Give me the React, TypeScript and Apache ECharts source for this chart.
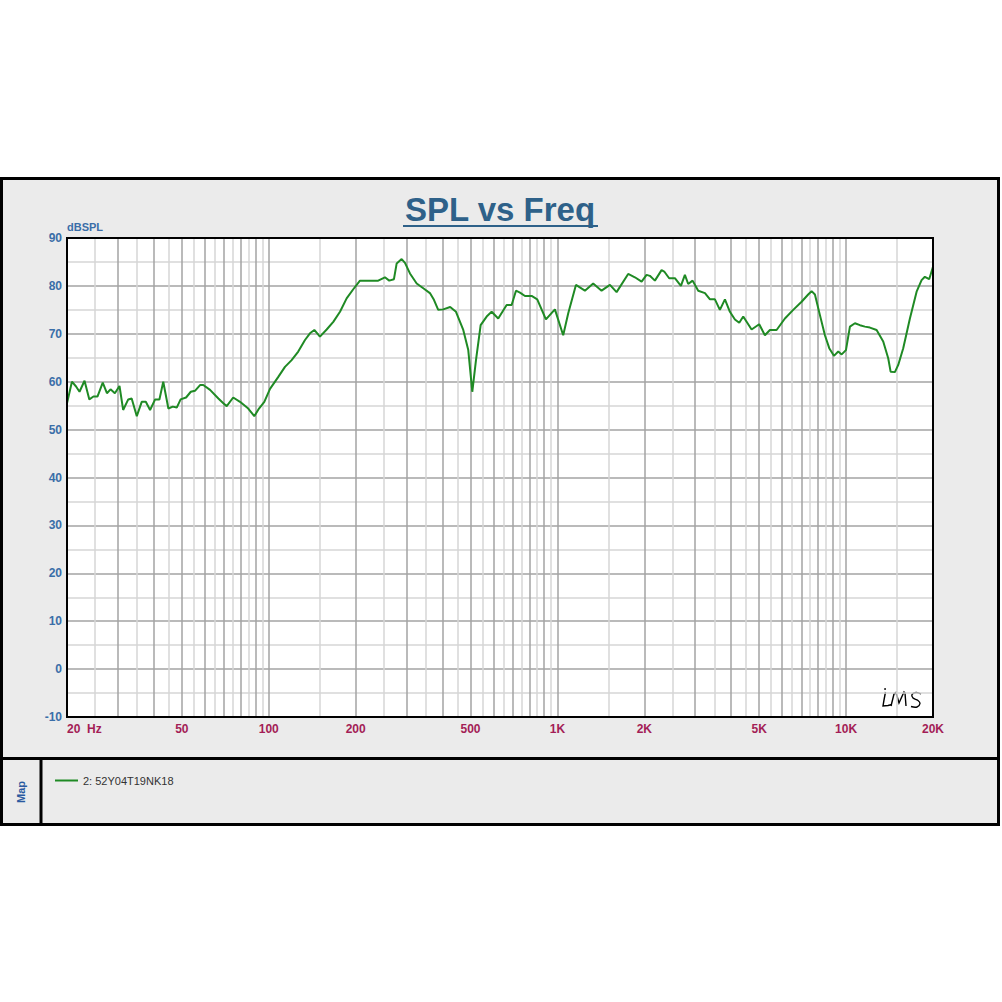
import React, { useEffect, useRef } from "react";
import * as echarts from "echarts";

// Frequency response readings [Hz, dBSPL]
const LOW_BAND: [number, number][] = [
  [20, 55.5], [20.8, 60.0], [21.5, 59.0], [22.1, 57.9], [23.0, 60.2], [23.9, 56.3], [24.7, 56.9],
  [25.5, 56.9], [26.6, 59.8], [27.5, 57.6], [28.3, 58.4], [29.3, 57.6], [30.4, 59.1], [31.3, 54.1],
  [32.6, 56.3], [33.5, 56.5], [34.9, 52.8], [36.3, 55.8], [37.5, 55.8], [38.8, 54.1], [40.4, 56.3],
  [41.8, 56.3], [43.1, 60.0], [44.9, 54.4], [46.5, 54.8], [48.0, 54.6], [49.5, 56.3], [51.7, 56.7],
  [53.7, 57.9], [55.5, 58.1], [57.8, 59.3], [59.3, 59.3], [62.6, 58.3], [66.9, 56.5], [69.6, 55.5],
  [71.5, 54.9], [75.3, 56.7], [79.5, 55.8], [84.9, 54.4], [89.1, 52.8], [92.5, 54.4], [96.5, 55.8],
];
const MID_BAND: [number, number][] = [
  [101, 58.5], [107.9, 61.0], [113.8, 63.1], [120, 64.5], [126.5, 66.3], [133.5, 68.7], [138.9, 70.1],
  [143.8, 70.8], [150.4, 69.4], [158.7, 70.9], [167.3, 72.5], [176.5, 74.6], [186.1, 77.4], [196.2, 79.3],
  [207, 81.1], [224, 81.1], [239.4, 81.1], [252.6, 81.8], [261.4, 81.1], [271.4, 81.4], [277.4, 84.7],
  [288.6, 85.6], [296.4, 84.8], [308.4, 82.6], [325.4, 80.5], [343, 79.5], [361.6, 78.5], [373.4, 77.1],
  [386.4, 75.0], [402.2, 75.1], [425, 75.6], [445.2, 74.6], [471.8, 70.8], [491, 66.6], [507, 57.9],
  [522.2, 64.5], [542, 71.8], [568.6, 73.6], [591.6, 74.6], [623.6, 73.2], [666.8, 76.0], [694, 76.0],
  [718.4, 79.0], [741.8, 78.6], [771.8, 77.9], [814, 77.9], [851.2, 77.2], [912.2, 73.0], [980, 75.1],
];
const HIGH_BAND: [number, number][] = [
  [1047, 69.7], [1090, 74.3], [1159, 80.2], [1245, 79.0], [1330, 80.5], [1422, 79.0], [1520, 80.2],
  [1603, 78.7], [1758, 82.5], [1855, 81.8], [1957, 80.9], [2036, 82.3], [2090, 82.1], [2176, 81.1],
  [2295, 83.3], [2344, 83.0], [2438, 81.6], [2552, 81.6], [2678, 80.0], [2764, 82.3], [2838, 80.4],
  [2939, 81.1], [3074, 79.0], [3244, 78.5], [3376, 77.2], [3512, 77.2], [3654, 75.0], [3804, 77.2],
  [3958, 74.6], [4120, 73.0], [4264, 72.3], [4402, 73.6], [4706, 70.9], [5000, 72.0], [5232, 69.7],
  [5446, 70.8], [5744, 70.8], [6138, 73.2], [6558, 75.0], [7012, 76.7], [7390, 78.2], [7594, 78.9],
  [7798, 78.2], [8116, 73.9], [8446, 69.7], [8742, 67.0], [9076, 65.4], [9392, 66.3], [9652, 65.7],
  [9988, 66.6], [10310, 71.5], [10730, 72.2], [11166, 71.8], [11618, 71.5], [12092, 71.3], [12754, 70.8],
  [13446, 68.4], [13992, 64.9], [14262, 62.1], [14758, 62.0], [15156, 63.5], [15772, 67.0], [16636, 73.2],
  [17548, 78.8], [18260, 81.2], [18746, 81.9], [19402, 81.4], [20000, 84.0],
];

const SERIES_NAME = "2: 52Y04T19NK18";
const X_LABELS = [20, 50, 100, 200, 500, 1000, 2000, 5000, 10000, 20000];
const X_MAJOR_GRID = [
  30, 40, 50, 60, 70, 80, 90, 100, 200, 300, 400, 500, 600, 700, 800, 900, 1000,
  2000, 3000, 4000, 5000, 6000, 7000, 8000, 9000, 10000,
];
const X_MINOR_GRID = [
  25, 35, 45, 55, 65, 75, 85, 95, 150, 250, 350, 450, 550, 650, 750, 850, 950,
  1500, 2500, 3500, 4500, 5500, 6500, 7500, 8500, 9500, 15000,
];
const Y_MIN = -10;
const Y_MAX = 90;
const Y_STEP = 10;

const FONT = "'Liberation Sans', Arial, sans-serif";

export default function App() {
  const ref = useRef<HTMLDivElement>(null);
  useEffect(() => {
    if (!ref.current) return;
    const chart = echarts.init(ref.current, null, { renderer: "svg" });
    const curve = [...LOW_BAND, ...MID_BAND, ...HIGH_BAND];
    const gridLeft = 67, gridTop = 238, gridW = 866, gridH = 479;

    const gridLines = [
      ...X_MINOR_GRID.map((v) => ({ xAxis: v, lineStyle: { color: "#d6d6d6", width: 1.5, type: "solid" } })),
      ...X_MAJOR_GRID.map((v) => ({ xAxis: v, lineStyle: { color: "#a3a3a3", width: 1.5, type: "solid" } })),
    ];

    chart.setOption({
      animation: false,
      backgroundColor: "#ffffff",
      grid: {
        left: gridLeft,
        top: gridTop,
        width: gridW,
        height: gridH,
        show: true,
        backgroundColor: "#ffffff",
        borderWidth: 0,
        outerBoundsMode: "none",
      },
      legend: {
        data: [SERIES_NAME],
        left: 50,
        top: 770,
        icon: "rect",
        itemWidth: 23,
        itemHeight: 2,
        textStyle: { fontSize: 11, color: "#333333", fontFamily: FONT },
        selectedMode: false,
      },
      xAxis: {
        type: "log",
        logBase: 10,
        min: 20,
        max: 20000,
        axisLine: { show: false },
        axisTick: { show: false },
        splitLine: { show: false },
        axisLabel: {
          customValues: X_LABELS,
          alignMinLabel: "left",
          margin: 6,
          color: "#a31d56",
          fontWeight: "bold",
          fontSize: 12,
          fontFamily: FONT,
          formatter: (v: number) => {
            const r = Math.round(v);
            if (r === 20) return "20  Hz";
            return r >= 1000 ? `${Math.round(r / 1000)}K` : String(r);
          },
        },
      },
      yAxis: {
        type: "value",
        min: Y_MIN,
        max: Y_MAX,
        interval: Y_STEP,
        name: "dBSPL",
        nameLocation: "end",
        nameGap: 3,
        nameTextStyle: {
          align: "left",
          verticalAlign: "bottom",
          color: "#3a6ea8",
          fontWeight: "bold",
          fontSize: 11,
          fontFamily: FONT,
        },
        axisLine: { show: false },
        axisTick: { show: false },
        axisLabel: {
          margin: 5,
          color: "#3a6ea8",
          fontWeight: "bold",
          fontSize: 12,
          fontFamily: FONT,
        },
        splitLine: { show: true, lineStyle: { color: "#a3a3a3", width: 1.5 } },
        minorTick: { show: false, splitNumber: 2 },
        minorSplitLine: { show: true, lineStyle: { color: "#d6d6d6", width: 1.5 } },
      },
      series: [
        {
          name: "grid",
          type: "line",
          data: [],
          z: 1,
          silent: true,
          markLine: {
            silent: true,
            symbol: ["none", "none"],
            label: { show: false },
            animation: false,
            data: gridLines,
          },
        },
        {
          name: SERIES_NAME,
          type: "line",
          data: curve,
          z: 5,
          showSymbol: false,
          symbol: "none",
          lineStyle: { color: "#1f8a24", width: 2 },
          itemStyle: { color: "#1f8a24" },
        },
      ],
      graphic: [
        {
          type: "rect",
          z: -100,
          silent: true,
          shape: { x: 1.5, y: 178.5, width: 997, height: 646 },
          style: { fill: "#ebebeb", stroke: "#000000", lineWidth: 3 },
        },
        {
          type: "line",
          z: -99,
          silent: true,
          shape: { x1: 0, y1: 758.5, x2: 1000, y2: 758.5 },
          style: { stroke: "#000000", lineWidth: 3 },
        },
        {
          type: "line",
          z: -99,
          silent: true,
          shape: { x1: 41, y1: 758, x2: 41, y2: 825 },
          style: { stroke: "#000000", lineWidth: 3 },
        },
        {
          type: "rect",
          z: 100,
          silent: true,
          shape: { x: gridLeft, y: gridTop, width: gridW, height: gridH },
          style: { fill: "none", stroke: "#000000", lineWidth: 2 },
        },
        {
          type: "text",
          z: 100,
          x: 500,
          y: 209,
          style: {
            text: "SPL vs Freq",
            align: "center",
            verticalAlign: "middle",
            fill: "#2e6189",
            font: `bold 33px ${FONT}`,
          },
        },
        {
          type: "line",
          z: 100,
          shape: { x1: 403, y1: 226, x2: 598, y2: 226 },
          style: { stroke: "#2e6189", lineWidth: 2 },
        },
        {
          type: "text",
          z: 100,
          x: 21,
          y: 792,
          rotation: Math.PI / 2,
          style: {
            text: "Map",
            align: "center",
            verticalAlign: "middle",
            fill: "#2a5aa0",
            font: `bold 11px ${FONT}`,
          },
        },
        {
          type: "group",
          z: 100,
          children: [
            { type: "circle", shape: { cx: 885, cy: 689, r: 0.9 }, style: { fill: "#000" } },
            {
              type: "polyline",
              shape: { points: [[885.5, 692], [884, 700], [883, 706], [888, 705.5], [892, 704.5]] },
              style: { stroke: "#000", lineWidth: 1.4, fill: "none" },
            },
            {
              type: "polyline",
              shape: { points: [[891, 706], [894, 694], [896, 692.5], [899, 703], [904, 692], [905, 693], [906, 706]] },
              style: { stroke: "#000", lineWidth: 1.4, fill: "none" },
            },
            {
              type: "polyline",
              smooth: 0.4,
              shape: {
                points: [[921, 694], [916, 692.5], [912, 694.5], [913, 698], [918, 700.5], [920, 703.5], [917, 707], [911, 706.5]],
                smooth: 0.4,
              },
              style: { stroke: "#000", lineWidth: 1.4, fill: "none" },
            },
          ],
        },
      ],
    });
    return () => chart.dispose();
  }, []);
  return (
    <div
      ref={ref}
      style={{ position: "absolute", left: 0, top: 0, width: 1002, height: 1002 }}
    />
  );
}
